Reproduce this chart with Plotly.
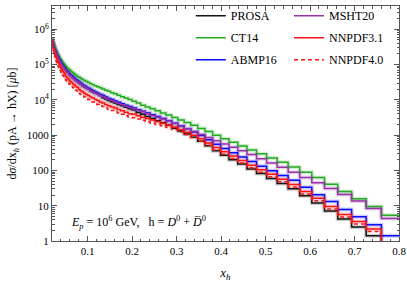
import plotly.graph_objects as go

# bin edges in x_h (log-spaced histogram bins)
xh_edges = [0.0200, 0.02094, 0.02193, 0.02296, 0.02404, 0.02518, 0.02636, 0.02760, 0.02891, 0.03027,
            0.03170, 0.03319, 0.03475, 0.03639, 0.03811, 0.03990, 0.04179, 0.04375, 0.04582, 0.04798,
            0.05024, 0.05261, 0.05508, 0.05768, 0.06040, 0.06325, 0.06623, 0.06935, 0.07262, 0.07604,
            0.07962, 0.08337, 0.08730, 0.09142, 0.09572, 0.1002, 0.1050, 0.1099, 0.1151, 0.1205,
            0.1262, 0.1321, 0.1384, 0.1449, 0.1517, 0.1589, 0.1664, 0.1742, 0.1824, 0.1910,
            0.2000, 0.2094, 0.2193, 0.2296, 0.2404, 0.2518, 0.2636, 0.2760, 0.2891, 0.3027,
            0.3170, 0.3319, 0.3475, 0.3639, 0.3811, 0.3990, 0.4179, 0.4375, 0.4582, 0.4798,
            0.5024, 0.5261, 0.5508, 0.5768, 0.6040, 0.6325, 0.6623, 0.6935, 0.7262, 0.7604, 0.8000]

x_ticks = [0.1, 0.2, 0.3, 0.4, 0.5, 0.6, 0.7, 0.8]
x_ticktext = ["0.1", "0.2", "0.3", "0.4", "0.5", "0.6", "0.7", "0.8"]
y_ticks = [1, 10, 100, 1000, 1e4, 1e5, 1e6]
y_ticktext = ["1", "10", "100", "1000", "10<sup>4</sup>", "10<sup>5</sup>", "10<sup>6</sup>"]

# dsigma/dx_h [mub], one value per bin
abmp16 = [5.01e5, 4.47e5, 4.07e5, 3.63e5, 3.31e5, 2.95e5, 2.69e5, 2.40e5, 2.19e5, 2.00e5,
          1.82e5, 1.66e5, 1.51e5, 1.38e5, 1.26e5, 1.15e5, 1.05e5, 9.55e4, 8.71e4, 7.94e4,
          7.24e4, 6.61e4, 6.17e4, 5.62e4, 5.13e4, 4.79e4, 4.37e4, 4.07e4, 3.72e4, 3.47e4,
          3.16e4, 2.95e4, 2.69e4, 2.51e4, 2.29e4, 2.14e4, 1.95e4, 1.82e4, 1.66e4, 1.55e4,
          1.41e4, 1.32e4, 1.20e4, 1.10e4, 1.02e4, 9330, 8510, 7760, 7080, 6460,
          5890, 5250, 4790, 4270, 3800, 3390, 2950, 2570, 2190, 1820,
          1510, 1230, 977, 741, 550, 417, 316, 240, 178, 132,
          97.7, 72.4, 52.5, 33.1, 20.4, 13.2, 7.76, 4.90, 2.88, 1.41]

prosa = [5.01e5, 4.47e5, 4.07e5, 3.63e5, 3.31e5, 2.95e5, 2.69e5, 2.40e5, 2.19e5, 2.00e5,
         1.82e5, 1.66e5, 1.51e5, 1.38e5, 1.26e5, 1.15e5, 1.05e5, 9.55e4, 8.71e4, 7.94e4,
         7.24e4, 6.46e4, 6.03e4, 5.50e4, 5.01e4, 4.68e4, 4.27e4, 3.98e4, 3.63e4, 3.39e4,
         3.09e4, 2.75e4, 2.51e4, 2.34e4, 2.14e4, 2.00e4, 1.82e4, 1.70e4, 1.55e4, 1.45e4,
         1.32e4, 1.15e4, 1.05e4, 9550, 8910, 8130, 7410, 6760, 6170, 5620,
         5130, 4370, 3890, 3390, 2950, 2570, 2240, 1910, 1580, 1320,
         1070, 871, 676, 501, 363, 269, 200, 151, 110, 81.3,
         58.9, 42.7, 30.2, 19.1, 12.0, 7.08, 4.17, 2.51, 1.41, 0.63]

ct14 = [5.13e5, 4.57e5, 4.17e5, 3.80e5, 3.47e5, 3.09e5, 2.82e5, 2.57e5, 2.34e5, 2.19e5,
        2.00e5, 1.82e5, 1.70e5, 1.55e5, 1.45e5, 1.32e5, 1.23e5, 1.12e5, 1.05e5, 9.77e4,
        9.12e4, 8.32e4, 7.76e4, 7.24e4, 6.76e4, 6.31e4, 5.75e4, 5.37e4, 5.01e4, 4.68e4,
        4.37e4, 4.07e4, 3.80e4, 3.55e4, 3.31e4, 3.09e4, 2.88e4, 2.69e4, 2.51e4, 2.34e4,
        2.19e4, 2.04e4, 1.86e4, 1.74e4, 1.58e4, 1.48e4, 1.35e4, 1.23e4, 1.12e4, 1.02e4,
        9120, 8130, 7080, 6310, 5620, 4900, 4270, 3720, 3160, 2690,
        2290, 1910, 1550, 1260, 1000, 794, 631, 490, 380, 295,
        224, 170, 126, 89.1, 63.1, 40.7, 25.1, 15.8, 9.55, 5.37]

msht20 = [4.68e5, 4.17e5, 3.80e5, 3.39e5, 3.09e5, 2.75e5, 2.51e5, 2.24e5, 2.04e5, 1.86e5,
          1.70e5, 1.55e5, 1.41e5, 1.29e5, 1.17e5, 1.07e5, 9.77e4, 8.91e4, 8.13e4, 7.41e4,
          6.76e4, 6.17e4, 5.75e4, 5.25e4, 4.79e4, 4.47e4, 4.07e4, 3.80e4, 3.47e4, 3.24e4,
          2.95e4, 2.75e4, 2.51e4, 2.34e4, 2.14e4, 2.00e4, 1.82e4, 1.70e4, 1.55e4, 1.45e4,
          1.32e4, 1.23e4, 1.12e4, 1.02e4, 9550, 8710, 7940, 7240, 6610, 6030,
          5500, 5010, 4570, 4070, 3630, 3240, 2880, 2510, 2140, 1820,
          1510, 1260, 1050, 851, 692, 562, 457, 363, 282, 214,
          162, 123, 89.1, 63.1, 44.7, 30.9, 20.9, 13.5, 8.32, 4.37]

nnpdf31 = [4.57e5, 3.98e5, 3.55e5, 3.09e5, 2.75e5, 2.40e5, 2.14e5, 1.86e5, 1.66e5, 1.48e5,
           1.32e5, 1.17e5, 1.07e5, 9.77e4, 8.91e4, 7.76e4, 7.08e4, 6.46e4, 5.89e4, 5.37e4,
           4.68e4, 4.27e4, 3.98e4, 3.63e4, 3.31e4, 3.09e4, 2.82e4, 2.63e4, 2.40e4, 2.24e4,
           1.95e4, 1.82e4, 1.66e4, 1.55e4, 1.41e4, 1.32e4, 1.20e4, 1.12e4, 1.02e4, 9550,
           8710, 8130, 7410, 6760, 6310, 5890, 5370, 4900, 4470, 4070,
           3890, 3550, 3240, 2950, 2690, 2450, 2190, 1950, 1700, 1450,
           1200, 1000, 794, 603, 447, 339, 257, 191, 141, 105,
           77.6, 56.2, 39.8, 25.1, 16.2, 9.55, 5.62, 3.55, 2.19, 0.79]

nnpdf40 = [4.07e5, 3.47e5, 3.02e5, 2.57e5, 2.24e5, 1.91e5, 1.66e5, 1.45e5, 1.29e5, 1.15e5,
           1.02e5, 9.12e4, 8.32e4, 7.59e4, 6.92e4, 6.03e4, 5.50e4, 5.01e4, 4.57e4, 4.17e4,
           3.63e4, 3.31e4, 3.09e4, 2.82e4, 2.57e4, 2.40e4, 2.19e4, 2.04e4, 1.86e4, 1.74e4,
           1.51e4, 1.41e4, 1.29e4, 1.20e4, 1.10e4, 1.02e4, 9330, 8710, 7940, 7410,
           6760, 6460, 5890, 5370, 5010, 4680, 4270, 3890, 3550, 3240,
           3090, 2880, 2630, 2400, 2190, 2000, 1860, 1660, 1450, 1230,
           1020, 851, 676, 513, 380, 288, 219, 162, 120, 89.1,
           66.1, 47.9, 33.9, 21.4, 13.8, 8.13, 4.79, 3.02, 1.86, 0.68]

GREEN = "rgb(34,170,34)"
BLUE = "rgb(10,10,250)"
PURPLE = "rgb(150,50,165)"
RED = "rgb(250,20,20)"
BLACK = "rgb(20,20,20)"

series = [
    ("PROSA", prosa, BLACK, "solid", "legend"),
    ("CT14", ct14, GREEN, "solid", "legend"),
    ("ABMP16", abmp16, BLUE, "solid", "legend"),
    ("MSHT20", msht20, PURPLE, "solid", "legend2"),
    ("NNPDF3.1", nnpdf31, RED, "solid", "legend2"),
    ("NNPDF4.0", nnpdf40, RED, "4px,3px", "legend2"),
]

fig = go.Figure()
# faint halo (band look) under each line
for name, vals, col, dash, lg in series:
    if dash == "solid":
        fig.add_trace(go.Scatter(x=xh_edges, y=vals + [vals[-1]], mode="lines",
                                 line=dict(shape="hv", color=col, width=4),
                                 opacity=0.2, showlegend=False, hoverinfo="skip"))
for name, vals, col, dash, lg in series:
    fig.add_trace(go.Scatter(x=xh_edges, y=vals + [vals[-1]], mode="lines", name=name,
                             line=dict(shape="hv", color=col, width=1.5, dash=dash),
                             legend=lg, legendgroup=name))

axis_common = dict(showline=True, linecolor="#555", linewidth=1, mirror="ticks",
                   ticks="inside", ticklen=5, tickcolor="#555", showgrid=False, zeroline=False,
                   tickfont=dict(family="Liberation Serif", size=11, color="black"))

fig.update_xaxes(range=[0.02, 0.8], tickmode="array", tickvals=x_ticks, ticktext=x_ticktext,
                 minor=dict(tickmode="linear", tick0=0, dtick=0.02, ticks="inside", ticklen=2.5,
                            tickcolor="#555", showgrid=False),
                 title=dict(text="<i>x<sub>h</sub></i>", font=dict(family="Liberation Serif", size=13),
                            standoff=16),
                 **axis_common)
fig.update_yaxes(type="log", range=[0, 6.66],
                 tickmode="array", tickvals=y_ticks, ticktext=y_ticktext,
                 minor=dict(dtick="D1", ticks="inside", ticklen=2.5, tickcolor="#555", showgrid=False),
                 title=dict(text="d<i>σ</i>/dx<sub><i>h</i></sub> (pA → hX) [<i>μ</i>b]",
                            font=dict(family="Liberation Serif", size=12), standoff=7),
                 **axis_common)

fig.update_layout(
    width=407, height=282,
    margin=dict(l=52, r=8, t=1, b=41),
    plot_bgcolor="white", paper_bgcolor="white",
    font=dict(family="Liberation Serif", size=12, color="black"),
    legend=dict(x=0.40, y=1.02, xanchor="left", yanchor="top", bgcolor="rgba(0,0,0,0)",
                font=dict(size=12), tracegroupgap=3),
    legend2=dict(x=0.683, y=1.02, xanchor="left", yanchor="top", bgcolor="rgba(0,0,0,0)",
                 font=dict(size=12), tracegroupgap=3),
    annotations=[dict(xref="paper", yref="paper", x=0.25, y=0.08, xanchor="center", yanchor="middle",
                      showarrow=False, font=dict(family="Liberation Serif", size=12),
                      text="<i>E<sub>p</sub></i> = 10<sup>6</sup> GeV,   h = <i>D</i><sup>0</sup> + <i>D\u0305</i><sup>0</sup>")],
)

fig.write_html("out.html", config={"displayModeBar": False},
               post_script="document.body.style.margin='0px';")
